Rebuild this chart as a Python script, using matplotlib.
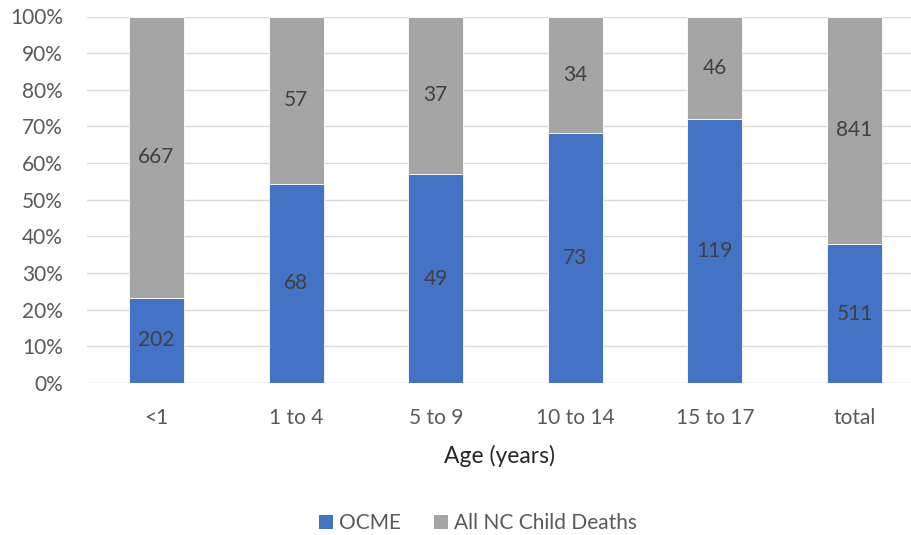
import matplotlib
matplotlib.use("Agg")
import matplotlib.pyplot as plt
from matplotlib.ticker import PercentFormatter
from matplotlib.patches import Patch

categories = ["<1", "1 to 4", "5 to 9", "10 to 14", "15 to 17", "total"]
ocme = [202, 68, 49, 73, 119, 511]
all_nc = [667, 57, 37, 34, 46, 841]
series_names = ["OCME", "All NC Child Deaths"]

plt.rcParams['font.family'] = ['Lato', 'DejaVu Sans']
txt = '#595959'
blue = '#4472C4'
grey = '#A5A5A5'

W, H = 912, 535
fig = plt.figure(figsize=(W/100, H/100), dpi=100)
left = 86.7 / W
bottom = (H - 383) / H
top = (H - 16.5) / H
ax = fig.add_axes([left, bottom, 1 - left, top - bottom])

totals = [a + b for a, b in zip(ocme, all_nc)]
p1 = [a / t for a, t in zip(ocme, totals)]
p2 = [b / t for b, t in zip(all_nc, totals)]
x = list(range(len(categories)))
bw = 0.395
ax.bar(x, p1, width=bw, color=blue, edgecolor='white', linewidth=0.6, zorder=3)
ax.bar(x, p2, width=bw, bottom=p1, color=grey, edgecolor='white', linewidth=0.6, zorder=3)

for i in x:
    ax.text(i, p1[i] / 2, str(ocme[i]), ha='center', va='center', fontsize=15, color='#404040', zorder=4)
    ax.text(i, p1[i] + p2[i] / 2, str(all_nc[i]), ha='center', va='center', fontsize=15, color='#404040', zorder=4)

ax.set_xlim(-0.5, 5.5 - 12.3 / 139.6)
ax.set_ylim(0, 1)
ax.set_yticks([i / 10 for i in range(11)])
ax.yaxis.set_major_formatter(PercentFormatter(1.0, decimals=0))
ax.grid(axis='y', color='#D9D9D9', linewidth=1.0, zorder=0)
ax.set_xticks(x)
ax.set_xticklabels(categories)
for s in ax.spines.values():
    s.set_visible(False)
ax.tick_params(axis='both', length=0, labelsize=15, colors=txt)
ax.tick_params(axis='x', pad=18)
ax.tick_params(axis='y', pad=17)
ax.set_xlabel("Age (years)", fontsize=16.5, color='#262626', labelpad=12)

handles = [Patch(facecolor=blue), Patch(facecolor=grey)]
fig.legend(handles, series_names, loc='center', bbox_to_anchor=(478 / W, 1 - 523 / H), ncol=2,
           frameon=False, fontsize=15, labelcolor=txt, handlelength=0.65, handleheight=0.65,
           handletextpad=0.3, columnspacing=1.6)

fig.savefig("out.png", dpi=100)
